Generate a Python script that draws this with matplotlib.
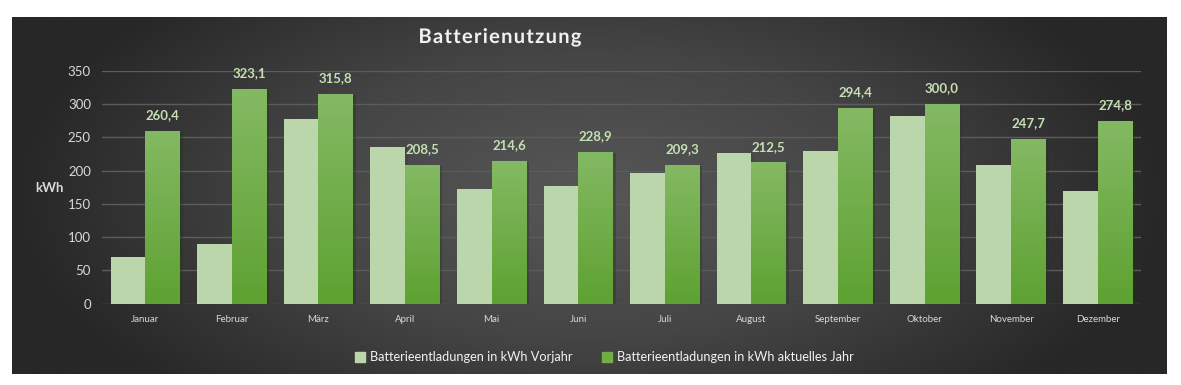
import numpy as np
import matplotlib.pyplot as plt
from matplotlib.colors import LinearSegmentedColormap
from matplotlib import patheffects as pe

plt.rcParams['font.family'] = ['Lato', 'DejaVu Sans']

monate = ['Januar', 'Februar', 'März', 'April', 'Mai', 'Juni', 'Juli',
          'August', 'September', 'Oktober', 'November', 'Dezember']
vorjahr = [70, 90, 278, 236, 173, 177, 197, 227, 229, 283, 209, 170]
aktuell = [260.4, 323.1, 315.8, 208.5, 214.6, 228.9, 209.3, 212.5,
           294.4, 300.0, 247.7, 274.8]
yticks = [0, 50, 100, 150, 200, 250, 300, 350]

W, H = 1181, 385
fig = plt.figure(figsize=(W / 100, H / 100), dpi=100)
fig.patch.set_facecolor('white')

# dark radial background
bg = fig.add_axes([12 / W, 1 - 374 / H, (1167 - 12) / W, (374 - 17) / H])
yy, xx = np.mgrid[-1:1:200j, -1:1:600j]
r = np.sqrt((xx / 1.0) ** 2 + (yy / 1.6) ** 2)
r = np.clip(r, 0, 1)
bgcmap = LinearSegmentedColormap.from_list('bg', ['#575757', '#454545', '#272727'])
bg.imshow(r, cmap=bgcmap, aspect='auto', extent=(0, 1, 0, 1), vmin=0, vmax=1)
bg.set_axis_off()

ax = fig.add_axes([102 / W, 1 - 303.7 / H, (1141 - 102) / W, (303.7 - 71) / H])
ax.set_facecolor('none')
x = np.arange(len(monate))
bw = 0.4

b1 = ax.bar(x - bw / 2, vorjahr, bw, color='#bbd6ab', zorder=3,
            path_effects=[pe.SimplePatchShadow(offset=(2, -1), alpha=0.35), pe.Normal()])
b2 = ax.bar(x + bw / 2, aktuell, bw, color='#72ad47', zorder=3,
            path_effects=[pe.SimplePatchShadow(offset=(2, -1), alpha=0.35), pe.Normal()])

grad = LinearSegmentedColormap.from_list('g', ['#5ea232', '#84b963'])
gimg = np.linspace(0, 1, 100).reshape(-1, 1)
for p in b2:
    x0, w, h = p.get_x(), p.get_width(), p.get_height()
    im = ax.imshow(gimg, cmap=grad, aspect='auto', origin='lower',
                   extent=(x0, x0 + w, 0, h), zorder=4)
    im.set_clip_path(p)
ax.set_xlim(-0.5, len(monate) - 0.5)
ax.set_ylim(0, 350)

for p, v in zip(b2, aktuell):
    ax.annotate(f'{v:.1f}'.replace('.', ','), (p.get_x() + p.get_width() / 2, v),
                xytext=(0, 7), textcoords='offset points', ha='center', va='bottom',
                fontsize=9.5, fontweight='bold', color='#c5e0b4', zorder=5)

ax.set_yticks(yticks)
ax.set_xticks(x)
ax.set_xticklabels(monate, fontsize=7, color='#d9d9d9')
ax.tick_params(axis='y', labelsize=9.5, colors='#d9d9d9', length=0, pad=8)
ax.tick_params(axis='x', length=0, pad=8)
ax.grid(axis='y', color='#5c5c5c', linewidth=1, zorder=0)
for s in ax.spines.values():
    s.set_visible(False)

fig.text(49 / W, 1 - 188 / H, 'kWh', fontsize=9.5, fontweight='bold',
         color='#d9d9d9', ha='center', va='center')

fig.text(500 / W, 1 - 37 / H, 'B a t t e r i e n u t z u n g'.replace(' ', '\u200a'),
         fontsize=14.5, fontweight='bold', color='#f2f2f2', ha='center', va='center',
         path_effects=[pe.withSimplePatchShadow(offset=(1, -1), alpha=0.5)])

# legend
lx = [360, 607]
labels = ['Batterieentladungen in kWh Vorjahr', 'Batterieentladungen in kWh aktuelles Jahr']
cols = ['#bbd6ab', '#72ad47']
for xp, lab, c in zip(lx, labels, cols):
    fig.patches.append(plt.Rectangle(((xp - 5) / W, 1 - 362 / H), 10 / W, 10 / H,
                                     transform=fig.transFigure, color=c, figure=fig))
    fig.text((xp + 10) / W, 1 - 357 / H, lab, fontsize=9.2, color='#f2f2f2',
             ha='left', va='center')

fig.savefig('out.png', dpi=100, facecolor='white')
